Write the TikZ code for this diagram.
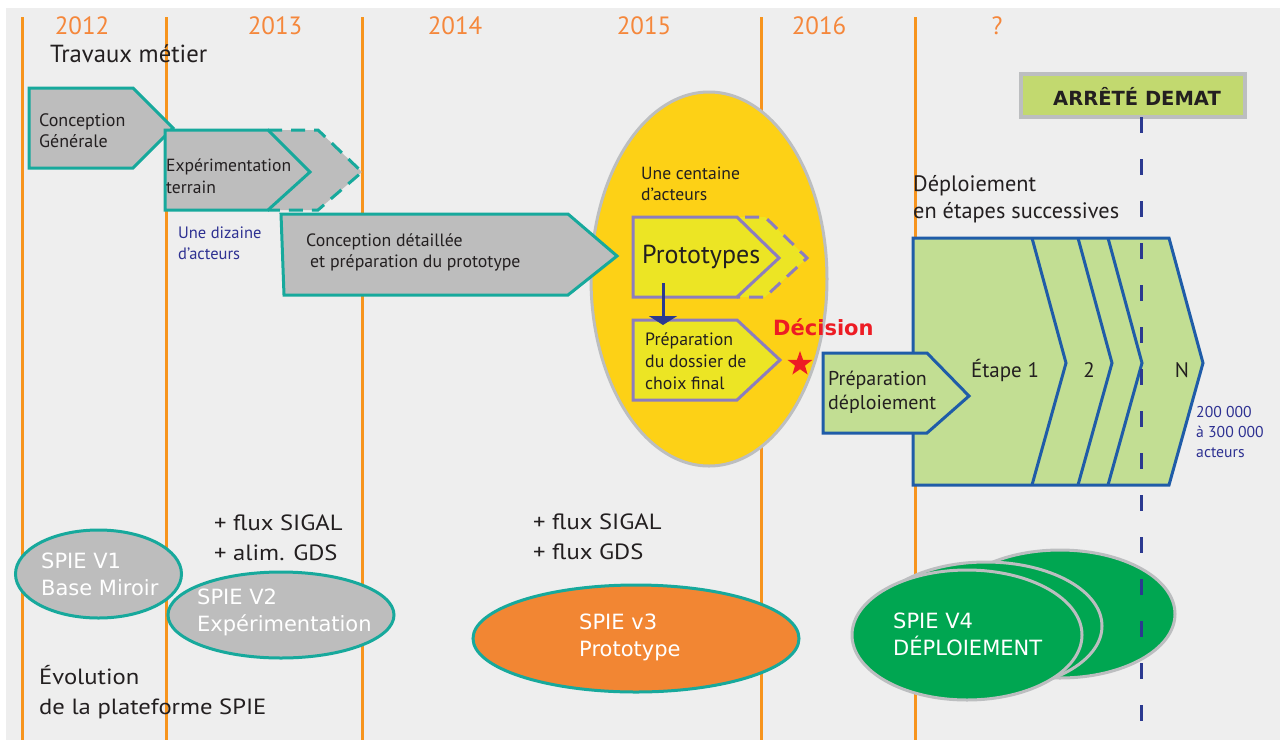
\documentclass[tikz,border=0pt]{standalone}
\usepackage{fontspec}
\setmainfont{PT Sans}
\newfontfamily\widesans[FakeStretch=1.12]{PT Sans}
\newfontfamily\dejavu{DejaVu Sans}
\usetikzlibrary{shapes.geometric,arrows.meta}
\definecolor{cbg}{HTML}{EEEEEE}
\definecolor{cyline}{HTML}{F7941D}
\definecolor{cyear}{HTML}{F5873B}
\definecolor{cdark}{HTML}{231F20}
\definecolor{cteal}{HTML}{17A99C}
\definecolor{cgray}{HTML}{BDBDBD}
\definecolor{cblue}{HTML}{2E3192}
\definecolor{cnavy}{HTML}{2B3990}
\definecolor{cyellow}{HTML}{FDD116}
\definecolor{cyel2}{HTML}{ECE524}
\definecolor{cpurple}{HTML}{8C7DBF}
\definecolor{cred}{HTML}{ED1C24}
\definecolor{cgreenl}{HTML}{C2DE93}
\definecolor{cbord}{HTML}{1F5CA8}
\definecolor{carrete}{HTML}{C2D96F}
\definecolor{csilver}{HTML}{BCBEC0}
\definecolor{corange}{HTML}{F28633}
\definecolor{cgreen}{HTML}{00A651}
\tikzset{
  yline/.style={cyline, line width=3pt},
  yeartxt/.style={text=cyear, inner sep=0, font=\fontsize{25}{28}\selectfont},
  txt/.style={inner sep=0, anchor=west, align=left, text=cdark},
  graybox/.style={fill=cgray, draw=cteal, line width=3pt},
  yelbox/.style={fill=cyel2, draw=cpurple, line width=3pt},
  greenbox/.style={fill=cgreenl, draw=cbord, line width=3pt},
  whitetxt/.style={inner sep=0, anchor=west, align=left, text=white, font=\dejavu\fontsize{21}{27}\selectfont},
  greenell/.style={fill=cgreen, draw=csilver, line width=3pt},
}
\begin{document}
\begin{tikzpicture}[x=1pt,y=-1pt,line join=miter]
\useasboundingbox (0,0) rectangle (1280,740);
\fill[white] (0,0) rectangle (1280,740);
\fill[cbg] (6,8) rectangle (1280,740);
% year lines
\foreach \x in {22.5,166.7,362.5,761,915.5} \draw[yline] (\x,17) -- (\x,740);
% years
\node[yeartxt] (y2012) at (82,26) {2012};
\node[yeartxt] (y2013) at (275,26) {2013};
\node[yeartxt] (y2014) at (455,26) {2014};
\node[yeartxt] (y2015) at (644,26) {2015};
\node[yeartxt] (y2016) at (819,26) {2016};
\node[yeartxt] (yq) at (997,26) {?};
\node[txt, anchor=base west, font=\fontsize{24.7}{28}\selectfont] (travaux) at (50,62) {Travaux métier};

% yellow ellipse
\fill[cyellow, draw=csilver, line width=3pt] (709,279) ellipse [x radius=118, y radius=187];

% Conception generale
\draw[graybox] (29,88) -- (133,88) -- (173,128) -- (133,168) -- (29,168) -- cycle;
\node[txt, font=\fontsize{18}{21}\selectfont] (cg) at (39,131) {Conception\\Générale};
% Experimentation ghost
\fill[cgray] (266,130) -- (318,130) -- (362,172) -- (318,210) -- (266,210) -- cycle;
\draw[cteal, line width=3pt, dash pattern=on 14pt off 9pt] (268,130) -- (318,130) -- (362,172) -- (318,210) -- (268,210);
\draw[graybox] (165,130) -- (268,130) -- (310,172) -- (268,210) -- (165,210) -- cycle;
\node[txt, font=\fontsize{17.6}{22}\selectfont] (exp) at (166,176) {Expérimentation\\terrain};
\node[txt, text=cblue, font=\fontsize{16.5}{21}\selectfont] (diz) at (178,243) {Une dizaine\\d’acteurs};

% Conception detaillee
\draw[graybox] (281,214) -- (568,214) -- (617,256) -- (568,295) -- (284,295) -- cycle;
\node[txt, font=\fontsize{17.8}{21}\selectfont] (cd) at (306,252) {Conception détaillée\\\hspace{4pt}et préparation du prototype};

% inside ellipse
\node[txt, font=\fontsize{17.6}{21}\selectfont] (cent) at (641,184) {Une centaine\\d’acteurs};
\fill[cyel2] (735,217) -- (765,217) -- (807,258) -- (765,297) -- (735,297) -- cycle;
\draw[cpurple, line width=3pt, dash pattern=on 14pt off 9pt] (745,217) -- (765,217) -- (807,258) -- (765,297) -- (737,297);
\draw[yelbox] (633,217) -- (737,217) -- (779,258) -- (737,297) -- (633,297) -- cycle;
\node[txt, font=\fontsize{26}{28}\selectfont] (proto) at (642,257) {Prototypes};
\draw[yelbox] (633,320) -- (737,320) -- (780,360) -- (737,400) -- (633,400) -- cycle;
\node[txt, font=\fontsize{17.8}{22}\selectfont] (dossier) at (645,361) {Préparation\\du dossier de\\choix final};
\coordinate (pa) at (663,283);
\coordinate (pb) at (663,325);
\draw[cnavy, line width=3pt, -{Triangle[width=28pt,length=9pt]}] (pa) -- (pb);
\node[star, star points=5, star point ratio=2.5, fill=cred, inner sep=0, minimum size=26pt] (star) at (800,364) {};
\node[txt, text=cred, font=\dejavu\bfseries\fontsize{21}{24}\selectfont] (decision) at (773,327) {Décision};

% deploiement
\node[txt, font=\fontsize{22.3}{27}\selectfont] (deptxt) at (913,199) {Déploiement\\en étapes successives};
\draw[greenbox] (913,238) -- (1169,238) -- (1203,363) -- (1169,485) -- (913,485) -- cycle;
\draw[cbord, line width=3pt] (1032,238) -- (1066,363) -- (1032,485);
\draw[cbord, line width=3pt] (1078,238) -- (1112,363) -- (1078,485);
\draw[cbord, line width=3pt] (1108,238) -- (1142,363) -- (1108,485);
\node[inner sep=0, text=cdark, font=\fontsize{21}{24}\selectfont] (e1) at (1005,370) {Étape 1};
\node[inner sep=0, text=cdark, font=\fontsize{21}{24}\selectfont] (e2) at (1089,370) {2};
\node[inner sep=0, text=cdark, font=\fontsize{21}{24}\selectfont] (eN) at (1182,370) {N};
\draw[greenbox] (823,353) -- (927,353) -- (969,396) -- (927,433) -- (823,433) -- cycle;
\node[txt, font=\fontsize{20}{24}\selectfont] (prepdep) at (828,392) {Préparation\\déploiement};
\node[txt, text=cblue, font=\fontsize{15.7}{20}\selectfont] (acteurs) at (1196,432) {200 000\\à 300 000\\acteurs};

% bottom
\node[txt, font=\widesans\fontsize{22}{30}\selectfont] (flux1) at (214,538) {+ flux SIGAL\\+ alim. GDS};
\node[txt, font=\widesans\fontsize{22}{30}\selectfont] (flux2) at (533,537) {+ flux SIGAL\\+ flux GDS};
\draw[fill=cgray, draw=cteal, line width=3pt] (98.5,574) ellipse [x radius=83, y radius=44];
\node[whitetxt] (v1) at (41,574) {SPIE V1\\Base Miroir};
\draw[fill=cgray, draw=cteal, line width=3pt] (281,615) ellipse [x radius=113, y radius=43];
\node[whitetxt] (v2) at (197,612) {SPIE V2\\Expérimentation};
\draw[fill=corange, draw=cteal, line width=3pt] (636,638.5) ellipse [x radius=163, y radius=53.5];
\node[whitetxt] (v3) at (579,637) {SPIE v3\\Prototype};
\draw[greenell] (1060,614) ellipse [x radius=115, y radius=64];
\draw[greenell] (986,626) ellipse [x radius=116, y radius=64];
\draw[greenell] (967,635) ellipse [x radius=115, y radius=65];
\node[whitetxt] (v4) at (893,634) {SPIE V4\\DÉPLOIEMENT};
\node[txt, font=\widesans\fontsize{22}{30}\selectfont] (evol) at (39,692) {Évolution\\de la plateforme SPIE};

% arrete demat
\draw[fill=carrete, draw=csilver, line width=4pt] (1021,74) rectangle (1245,117);
\node[inner sep=0, text=cdark, font=\dejavu\bfseries\fontsize{19.5}{22}\selectfont] (arrete) at (1137,96) {ARRÊTÉ DEMAT};
\coordinate (dtop) at (1141.5,117);
\coordinate (dbot) at (1141.5,740);
\draw[cnavy, line width=3pt, dash pattern=on 16pt off 26pt] (dtop) -- (dbot);
\end{tikzpicture}
\end{document}
